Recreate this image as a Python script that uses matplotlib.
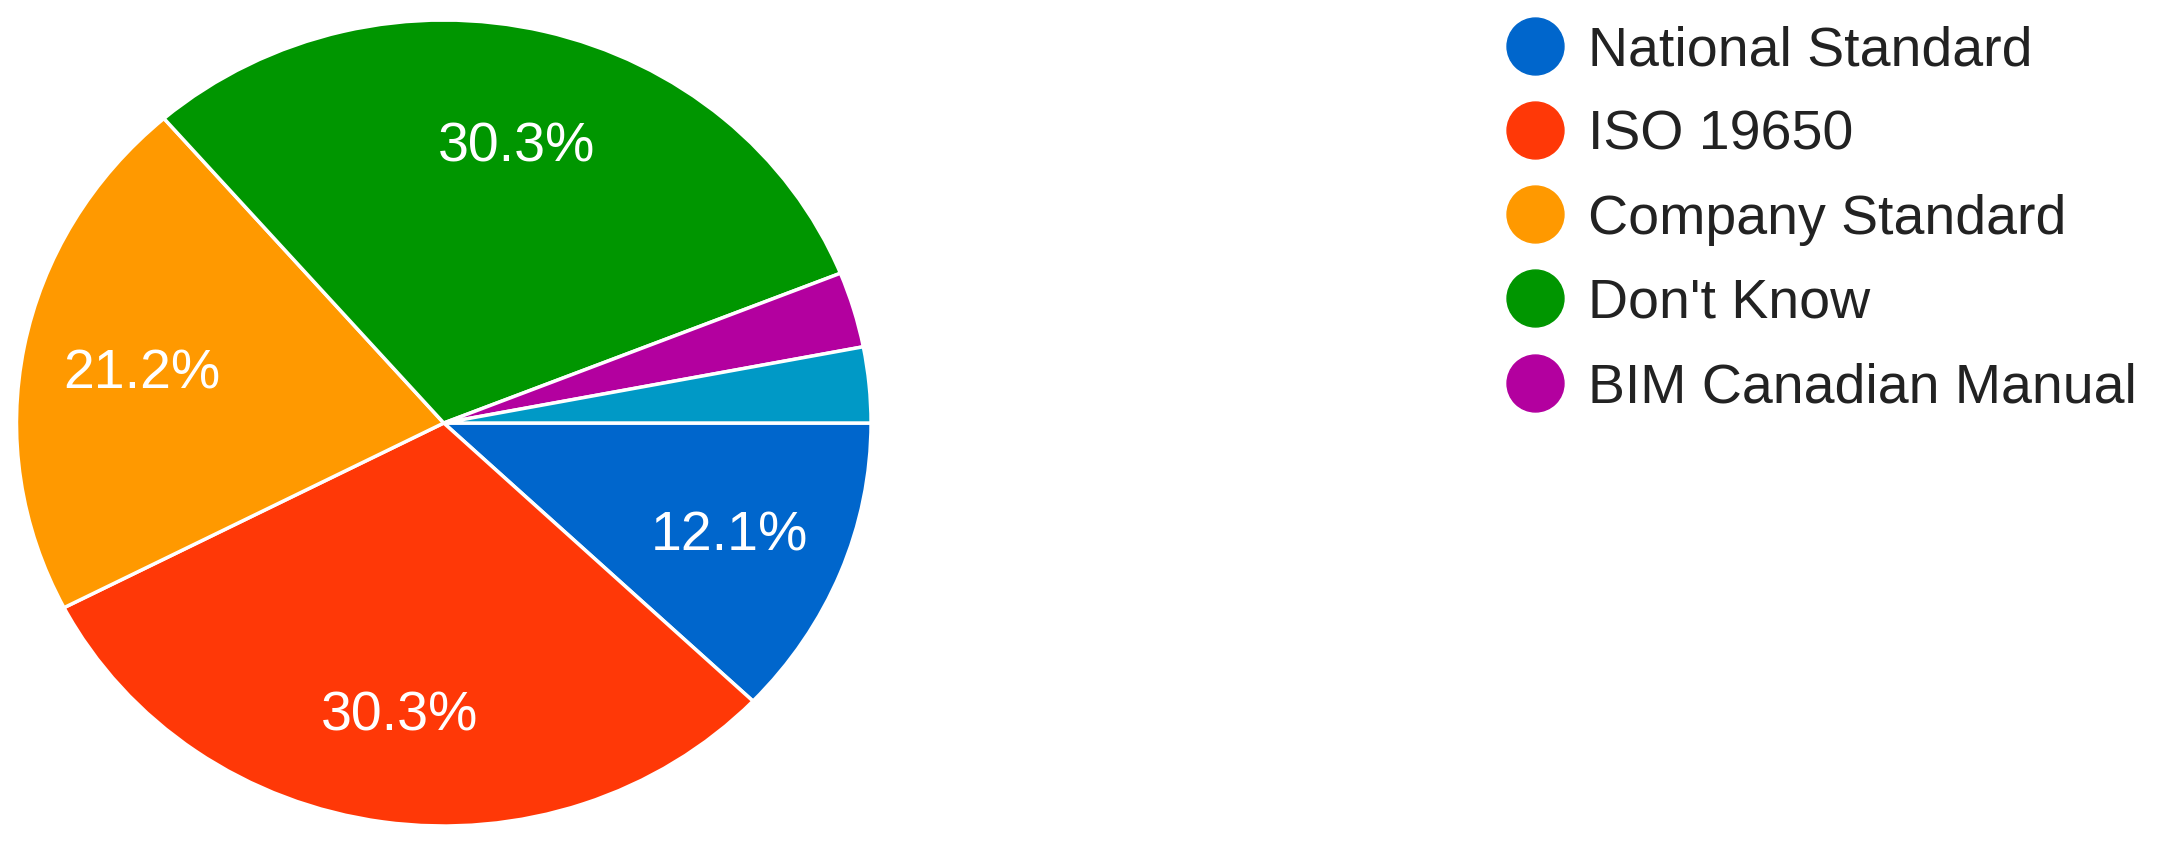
import matplotlib
matplotlib.use("Agg")
import matplotlib.pyplot as plt
from matplotlib.lines import Line2D

plt.rcParams["font.family"] = ["Liberation Sans", "DejaVu Sans"]

# survey answers (counts out of 33)
categories = ["National Standard", "ISO 19650", "Company Standard",
              "Don't Know", "BIM Canadian Manual", "Other"]
counts = [4, 10, 7, 10, 1, 1]
colors = ["#0066CC", "#FF3807", "#FF9900", "#009600", "#B3009F", "#0099C6"]
legend_count = 5  # last entry falls off the legend page


def pct_label(p):
    return f"{p:.1f}%" if p >= 5 else ""


fig = plt.figure(figsize=(21.7, 8.42), dpi=100)
# the source pie is slightly stretched sideways, so keep aspect auto
ax = fig.add_axes([0.0076, 0.019, 0.3938, 0.9572])

wedges, _, autotexts = ax.pie(
    counts, colors=colors, startangle=0, counterclock=False,
    autopct=pct_label, pctdistance=0.72,
    wedgeprops=dict(edgecolor="white", linewidth=2.5),
    textprops=dict(color="white", fontsize=40),
)
for t in autotexts:
    t.set_va("center_baseline")
ax.set_xlim(-1, 1)
ax.set_ylim(-1, 1)
ax.set_aspect("auto")
ax.axis("off")

handles = [Line2D([], [], marker="o", linestyle="", markersize=41,
                  markerfacecolor=c, markeredgecolor=c)
           for c in colors[:legend_count]]
fig.legend(handles, categories[:legend_count], loc="upper left",
           bbox_to_anchor=(0.6945, 0.970), frameon=False, fontsize=40,
           labelcolor="#222222", labelspacing=0.58, handletextpad=0.45,
           handlelength=1.0, borderaxespad=0, borderpad=0)

fig.savefig("out.png", dpi=100, facecolor="white")
